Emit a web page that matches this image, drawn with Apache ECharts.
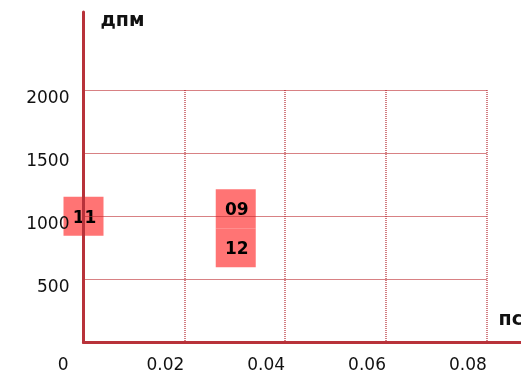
<!DOCTYPE html>
<html>
<head>
<meta charset="utf-8">
<script src="https://cdn.jsdelivr.net/npm/echarts@6/dist/echarts.min.js"></script>
<style>
html,body{margin:0;padding:0;background:#fff;}
#chart{width:521px;height:382px;}
</style>
</head>
<body>
<div id="chart"></div>
<script>
// ---- data ----
const pointLabels = ['11', '09', '12'];
const xValues = [0, 0.0302, 0.0302];
const yValues = [1000, 1060, 750];
const xAxisName = 'пс';
const yAxisName = 'дпм';
const xMin = 0, xMax = 0.08, xStep = 0.02;
const yMin = 0, yMax = 2000, yStep = 500;

const FONT = 'DejaVu Sans';
const AXIS_COLOR = '#b8323a';
const tickStyle = { fontFamily: FONT, fontSize: 17, color: '#111' };

const chart = echarts.init(document.getElementById('chart'), null, { renderer: 'canvas' });

chart.setOption({
  animation: false,
  backgroundColor: '#fff',
  grid: [
    { left: 83.5, top: 90, right: 34.2, bottom: 39.6, outerBoundsMode: 'none', containLabel: false },
    { left: 83.5, top: 12, right: 0, bottom: 39.6, outerBoundsMode: 'none', containLabel: false }
  ],
  xAxis: [
    {
      gridIndex: 0, type: 'value', min: xMin, max: xMax, interval: xStep, z: 5,
      axisLine: { show: false }, axisTick: { show: false },
      splitLine: { show: true, lineStyle: { color: 'rgba(175,25,35,0.75)', width: 1.5, type: [1, 1] } },
      axisLabel: Object.assign({}, tickStyle, {
        align: 'right', verticalAlign: 'top', margin: 15,
        formatter: v => v === 0 ? '{o|0}' : v.toFixed(2),
        rich: { o: Object.assign({}, tickStyle, { padding: [0, 15, 0, 0] }) }
      })
    },
    {
      gridIndex: 1, type: 'value', min: 0, max: 1, z: 6,
      axisLine: { show: true, lineStyle: { color: AXIS_COLOR, width: 3 } },
      axisTick: { show: false }, axisLabel: { show: false }, splitLine: { show: false },
      name: xAxisName, nameLocation: 'end', nameGap: 2,
      nameTextStyle: { fontFamily: FONT, fontSize: 19, fontWeight: 'bold', color: '#111',
        align: 'right', verticalAlign: 'bottom', padding: [0, 0, 13, 0] }
    }
  ],
  yAxis: [
    {
      gridIndex: 0, type: 'value', min: yMin, max: yMax, interval: yStep, z: 5,
      axisLine: { show: false }, axisTick: { show: false },
      splitLine: { show: true, lineStyle: { color: 'rgba(190,45,50,0.6)', width: 1 } },
      axisLabel: Object.assign({}, tickStyle, {
        margin: 14, verticalAlign: 'top',
        formatter: v => v === 0 ? '' : String(v)
      })
    },
    {
      gridIndex: 1, type: 'value', min: 0, max: 1, z: 6,
      axisLine: { show: true, lineStyle: { color: AXIS_COLOR, width: 3 } },
      axisTick: { show: false }, axisLabel: { show: false }, splitLine: { show: false },
      name: yAxisName, nameLocation: 'end', nameGap: -9,
      nameTextStyle: { fontFamily: FONT, fontSize: 19, fontWeight: 'bold', color: '#111',
        align: 'left', verticalAlign: 'middle', padding: [0, 0, 0, 17] }
    }
  ],
  series: [{
    type: 'scatter',
    xAxisIndex: 0, yAxisIndex: 0,
    z: 2, clip: false,
    symbol: 'rect', symbolSize: [40, 39],
    itemStyle: { color: '#ff7474', opacity: 1 },
    label: {
      show: true, position: 'inside', offset: [1, 2], formatter: p => p.data[2],
      fontFamily: FONT, fontSize: 17, fontWeight: 'bold', color: '#000'
    },
    emphasis: { disabled: true },
    data: xValues.map((x, i) => [x, yValues[i], pointLabels[i]])
  }]
});
</script>
</body>
</html>
